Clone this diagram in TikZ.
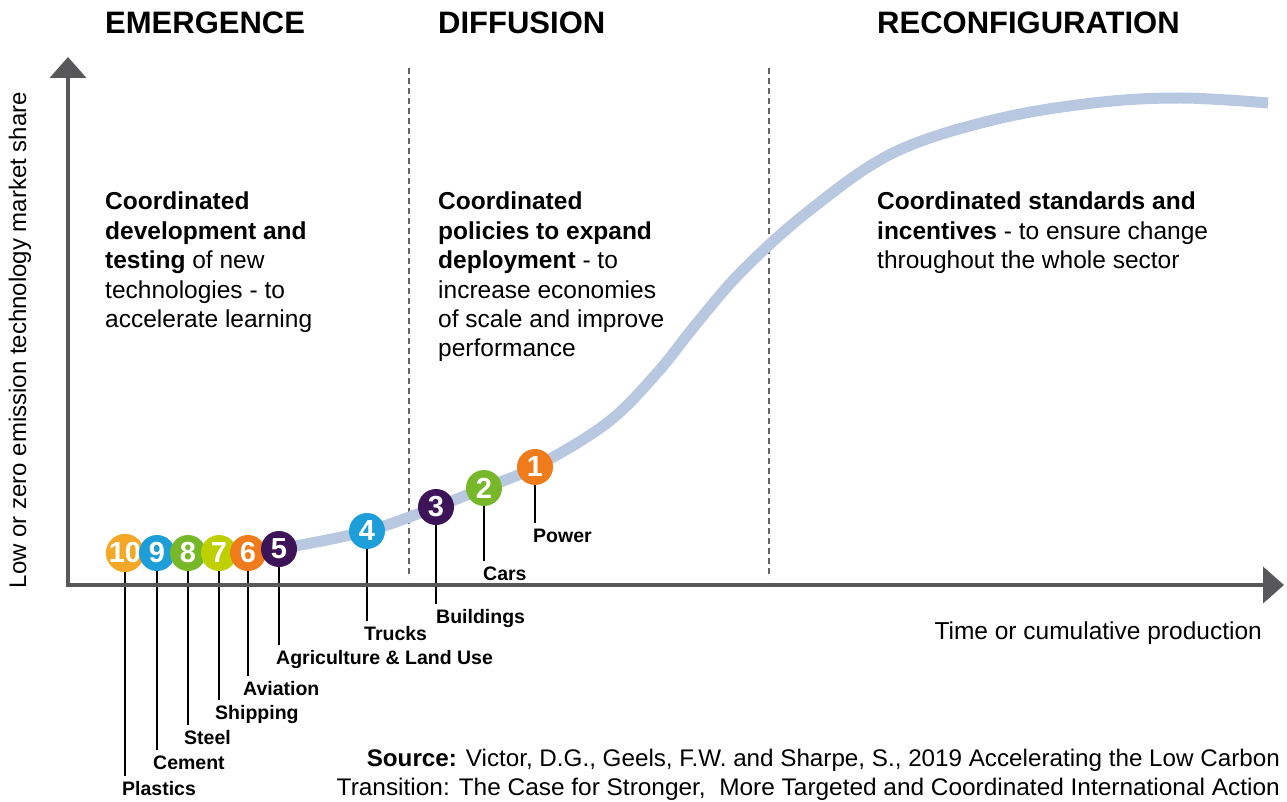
\documentclass[tikz,border=0pt]{standalone}
\usepackage{fontspec}
\usepackage{graphicx}
\setmainfont{Liberation Sans}
\usetikzlibrary{arrows.meta,backgrounds}
\definecolor{axisgray}{RGB}{88,88,91}
\definecolor{divgray}{RGB}{100,100,100}
\definecolor{curvecol}{RGB}{184,200,224}
\definecolor{cOrangeY}{RGB}{245,168,40}
\definecolor{cBlue}{RGB}{30,158,217}
\definecolor{cGreen}{RGB}{118,184,42}
\definecolor{cLime}{RGB}{190,208,0}
\definecolor{cOrange}{RGB}{239,123,26}
\definecolor{cPurple}{RGB}{61,20,88}
\begin{document}
\begin{tikzpicture}[x=1pt,y=-1pt,
  head/.style={anchor=base west, inner sep=0, font=\fontsize{31}{37}\selectfont\bfseries},
  body/.style={anchor=north west, inner sep=0, align=left, font=\fontsize{24.5}{29.4}\selectfont},
  num/.style={circle, minimum size=36pt, inner sep=0, text=white, font=\fontsize{29}{30}\selectfont\bfseries},
  lab/.style={anchor=base west, inner sep=0, font=\fontsize{19.5}{22}\selectfont\bfseries},
  leader/.style={line width=2.5pt, black},
  axis/.style={line width=4pt, axisgray, -{Triangle[width=36pt,length=21pt]}},
  divider/.style={line width=1.6pt, divgray, dash pattern=on 6pt off 4pt},
  curve/.style={line width=11pt, curvecol},
  srcline/.style={anchor=base east, inner sep=0, font=\fontsize{24}{28}\selectfont}
]
\useasboundingbox (0,0) rectangle (1287,802);

% axes
\coordinate (O) at (68,585);
\coordinate (ytip) at (68,57);
\coordinate (xtip) at (1284,585);
\draw[axis] (O) -- (ytip);
\draw[axis] ([xshift=-2pt]O) -- (xtip);

% phase dividers
\coordinate (d1t) at (409,68); \coordinate (d1b) at (409,578);
\coordinate (d2t) at (769,68); \coordinate (d2b) at (769,578);
\draw[divider] (d1t) -- (d1b);
\draw[divider] (d2t) -- (d2b);

% curve
\draw[curve] plot[smooth, tension=0.6] coordinates {(250,553) (279,549) (367,531) (436,507) (484,488) (535,467) (607,423) (657,373) (697,323) (743,270) (810,210) (893,153) (993,120) (1093,103) (1180,98) (1268,103)};

% headings
\node[head] (h1) at (105,34) {EMERGENCE};
\node[head] (h2) at (438,34) {DIFFUSION};
\node[head] (h3) at (877,34) {RECONFIGURATION};

% body texts
\node[body] (b1) at (105,192) {\textbf{Coordinated}\\\textbf{development and}\\\textbf{testing} of new\\technologies - to\\accelerate learning};
\node[body] (b2) at (438,192) {\textbf{Coordinated}\\\textbf{policies to expand}\\\textbf{deployment} - to\\increase economies\\of scale and improve\\performance};
\node[body] (b3) at (877,192) {\textbf{Coordinated standards and}\\\textbf{incentives} - to ensure change\\throughout the whole sector};

% axis labels
\node[rotate=90, anchor=base, inner sep=0, font=\fontsize{24}{28}\selectfont] (ylab) at (26,340) {Low or zero emission technology market share};
\node[anchor=base east, inner sep=0, font=\fontsize{24.5}{29}\selectfont] (xlab) at (1262,639) {Time or cumulative production};

% circles
\node[num, fill=cOrangeY] (c10) at (125,553) {10};
\node[num, fill=cBlue]    (c9)  at (157,553) {9};
\node[num, fill=cGreen]   (c8)  at (188,553) {8};
\node[num, fill=cLime]    (c7)  at (219,553) {7};
\node[num, fill=cOrange]  (c6)  at (248,553) {6};
\node[num, fill=cPurple]  (c5)  at (279,549) {5};
\node[num, fill=cBlue]    (c4)  at (367,531) {4};
\node[num, fill=cPurple]  (c3)  at (436,507) {3};
\node[num, fill=cGreen]   (c2)  at (484,488) {2};
\node[num, fill=cOrange]  (c1)  at (535,467) {1};

% labels
\node[lab] (l10) at (122,795) {Plastics};
\node[lab] (l9)  at (153,769) {Cement};
\node[lab] (l8)  at (184,744) {Steel};
\node[lab] (l7)  at (215,719) {Shipping};
\node[lab] (l6)  at (243,695) {Aviation};
\node[lab] (l5)  at (276,664) {Agriculture \& Land Use};
\node[lab] (l4)  at (364,640) {Trucks};
\node[lab] (l3)  at (436,623) {Buildings};
\node[lab] (l2)  at (483,580) {Cars};
\node[lab] (l1)  at (533,542) {Power};

\begin{pgfonlayer}{background}
\foreach \i in {1,...,10}{
  \draw[leader] (c\i.center) -- ([yshift=5pt]c\i.center |- l\i.north);
}
\end{pgfonlayer}

% source
\node[srcline] (s1) at (1280,766) {\resizebox{913pt}{\height}{\textbf{Source:} Victor, D.G., Geels, F.W. and Sharpe, S., 2019 Accelerating the Low Carbon}};
\node[srcline] (s2) at (1280,795) {\resizebox{943pt}{\height}{Transition: The Case for Stronger, \ More Targeted and Coordinated International Action}};
\end{tikzpicture}
\end{document}
